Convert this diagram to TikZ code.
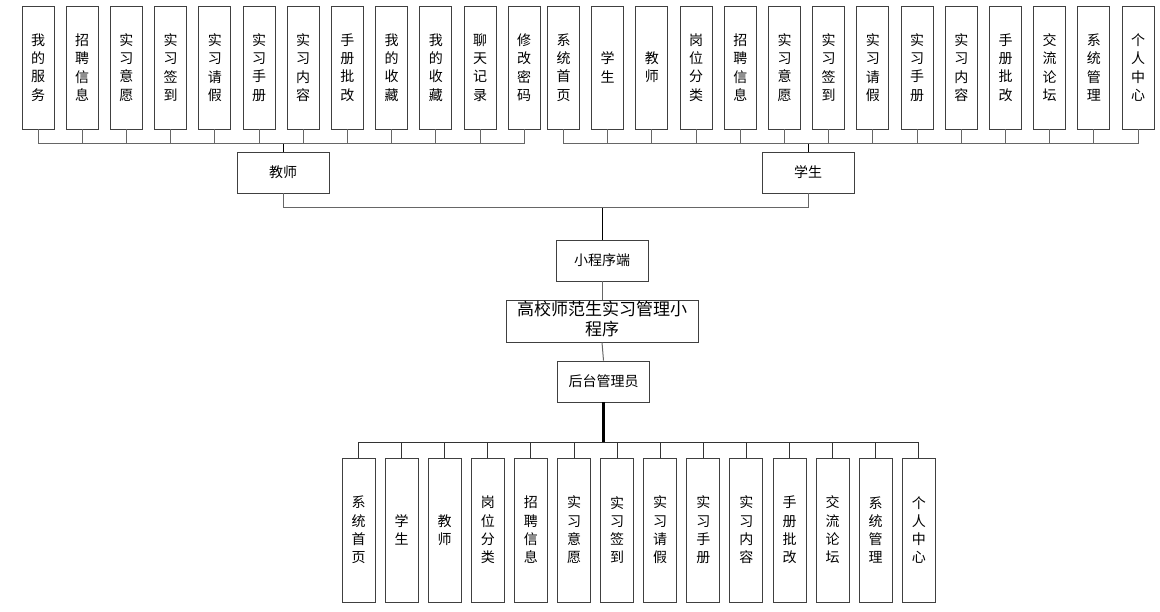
\documentclass[tikz,border=0pt]{standalone}
\usepackage{fontspec}
\setmainfont{Noto Sans CJK SC}
\begin{document}
\begin{tikzpicture}[x=1pt,y=-1pt,
  box/.style={draw=black!75,line width=0.9pt,fill=white,inner sep=0pt,align=center,
    font=\fontsize{14}{18.3}\selectfont},
  vbox/.style={box,minimum width=32pt,minimum height=123pt},
  bbox/.style={box,minimum width=33pt,minimum height=144pt},
  hbox/.style={box,minimum width=92pt,minimum height=41pt},
  conn/.style={draw=black!60,line width=1pt},
  thick conn/.style={draw=black,line width=2.4pt}]
\useasboundingbox (0,0) rectangle (1160,612);
% teacher items
\foreach \t [count=\i from 0] in {我\\的\\服\\务,招\\聘\\信\\息,实\\习\\意\\愿,实\\习\\签\\到,实\\习\\请\\假,实\\习\\手\\册,实\\习\\内\\容,手\\册\\批\\改,我\\的\\收\\藏,我\\的\\收\\藏,聊\\天\\记\\录,修\\改\\密\\码}
  \node[vbox] (t\i) at ({38+44.2*\i},67.5) {\t};
% student items
\foreach \t [count=\i from 0] in {系\\统\\首\\页,学\\生,教\\师,岗\\位\\分\\类,招\\聘\\信\\息,实\\习\\意\\愿,实\\习\\签\\到,实\\习\\请\\假,实\\习\\手\\册,实\\习\\内\\容,手\\册\\批\\改,交\\流\\论\\坛,系\\统\\管\\理,个\\人\\中\\心}
  \node[vbox] (s\i) at ({563.5+44.2*\i},67.5) {\t};
% bottom admin items
\foreach \t [count=\i from 0] in {系\\统\\首\\页,学\\生,教\\师,岗\\位\\分\\类,招\\聘\\信\\息,实\\习\\意\\愿,实\\习\\签\\到,实\\习\\请\\假,实\\习\\手\\册,实\\习\\内\\容,手\\册\\批\\改,交\\流\\论\\坛,系\\统\\管\\理,个\\人\\中\\心}
  \node[bbox] (b\i) at ({358.5+43.1*\i},530) {\t};
% middle boxes
\node[hbox] (teacher) at (283,172.5) {教师};
\node[hbox] (student) at (808,172.5) {学生};
\node[hbox] (mini) at (602,260.5) {小程序端};
\node[box,minimum width=192pt,minimum height=42pt,font=\fontsize{17}{20.5}\selectfont] (sys) at (602,321) {};
\node[font=\fontsize{17}{20.5}\selectfont,align=center,inner sep=0pt] (systext) at (602,319) {高校师范生实习管理小\\程序};
\node[hbox] (admin) at (603.5,381.5) {后台管理员};
% coordinates
\coordinate (tdrop) at (283,144);
\coordinate (sdrop) at (808,144);
\coordinate (mjoin) at (602,208);
\coordinate (abus) at (603.5,442);
% connectors top
\foreach \i in {0,...,11} \draw[conn] (t\i.south) |- (tdrop);
\foreach \i in {0,...,13} \draw[conn] (s\i.south) |- (sdrop);
\draw[conn,draw=black] (tdrop) -- (teacher.north);
\draw[conn,draw=black] (sdrop) -- (student.north);
\draw[conn] (teacher.south) |- (mjoin);
\draw[conn] (student.south) |- (mjoin);
\draw[conn,draw=black] (mjoin) -- (mini.north);
\draw[conn] (mini.south) -- (sys.north);
\draw[conn] (sys.south) -- (admin.north);
\draw[thick conn] (admin.south) -- (abus);
\foreach \i in {0,...,13} \draw[conn,draw=black!80] (b\i.north) |- (abus);
\end{tikzpicture}
\end{document}
